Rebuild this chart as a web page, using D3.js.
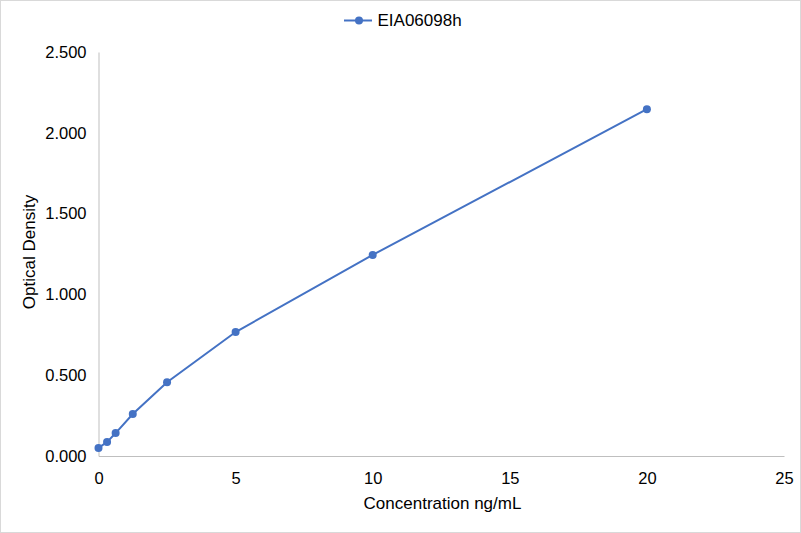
<!DOCTYPE html>
<html>
<head>
<meta charset="utf-8">
<script src="https://cdn.jsdelivr.net/npm/d3@7"></script>
<style>
  body { margin: 0; background: #fff; }
  text { font-family: "Liberation Sans", Arial, sans-serif; }
</style>
</head>
<body>
<div id="chart"></div>
<script>
// data
const seriesName = "EIA06098h";
const concentrations = [0, 0.3125, 0.625, 1.25, 2.5, 5, 10, 20];
const densities = [0.050, 0.086, 0.142, 0.260, 0.457, 0.767, 1.244, 2.146];
const xTicks = [0, 5, 10, 15, 20, 25];
const yTicks = [0, 0.5, 1, 1.5, 2, 2.5];

const width = 801, height = 533;
const margin = { top: 52, right: 17, bottom: 77, left: 98.5 };
const tickFont = 16.5, titleFont = 17;

const svg = d3.select("#chart").append("svg")
    .attr("width", width)
    .attr("height", height);

// outer border
svg.append("rect")
    .attr("x", 0.5).attr("y", 0.5)
    .attr("width", width - 1).attr("height", height - 1)
    .attr("fill", "#fff")
    .attr("stroke", "#d9d9d9");

const x = d3.scaleLinear()
    .domain([0, 25])
    .range([margin.left, width - margin.right]);

const y = d3.scaleLinear()
    .domain([0, 2.5])
    .range([height - margin.bottom, margin.top]);

// x axis
const xAxis = svg.append("g")
    .attr("transform", "translate(0," + (height - margin.bottom) + ")")
    .call(d3.axisBottom(x).tickValues(xTicks).tickSize(0).tickPadding(16).tickFormat(d3.format("d")));
xAxis.select(".domain").attr("stroke", "#bfbfbf");
xAxis.selectAll("text").attr("font-size", tickFont).attr("fill", "#000");

// y axis
const yAxis = svg.append("g")
    .attr("transform", "translate(" + margin.left + ",0)")
    .call(d3.axisLeft(y).tickValues(yTicks).tickSize(0).tickPadding(12).tickFormat(d3.format(".3f")));
yAxis.select(".domain").attr("stroke", "#bfbfbf");
yAxis.selectAll("text").attr("font-size", tickFont).attr("fill", "#000");

// axis titles
svg.append("text")
    .attr("x", 442.5)
    .attr("y", 509)
    .attr("text-anchor", "middle")
    .attr("font-size", titleFont)
    .attr("fill", "#000")
    .text("Concentration ng/mL");

svg.append("text")
    .attr("transform", "translate(35,252) rotate(-90)")
    .attr("text-anchor", "middle")
    .attr("font-size", titleFont)
    .attr("fill", "#000")
    .text("Optical Density");

const color = "#4472c4";
const points = concentrations.map((c, i) => ({ x: c, y: densities[i] }));

svg.append("path")
    .datum(points)
    .attr("fill", "none")
    .attr("stroke", color)
    .attr("stroke-width", 2)
    .attr("d", d3.line().x(d => x(d.x)).y(d => y(d.y)));

svg.append("g")
    .selectAll("circle")
    .data(points)
    .enter().append("circle")
    .attr("cx", d => x(d.x))
    .attr("cy", d => y(d.y))
    .attr("r", 4)
    .attr("fill", color);

// legend
const legend = svg.append("g").attr("transform", "translate(344,20.5)");
legend.append("line")
    .attr("x1", 0).attr("x2", 28)
    .attr("stroke", color).attr("stroke-width", 2);
legend.append("circle")
    .attr("cx", 15).attr("r", 4).attr("fill", color);
legend.append("text")
    .attr("x", 33.5).attr("dy", "0.35em")
    .attr("font-size", titleFont)
    .attr("fill", "#000")
    .text(seriesName);
</script>
</body>
</html>
